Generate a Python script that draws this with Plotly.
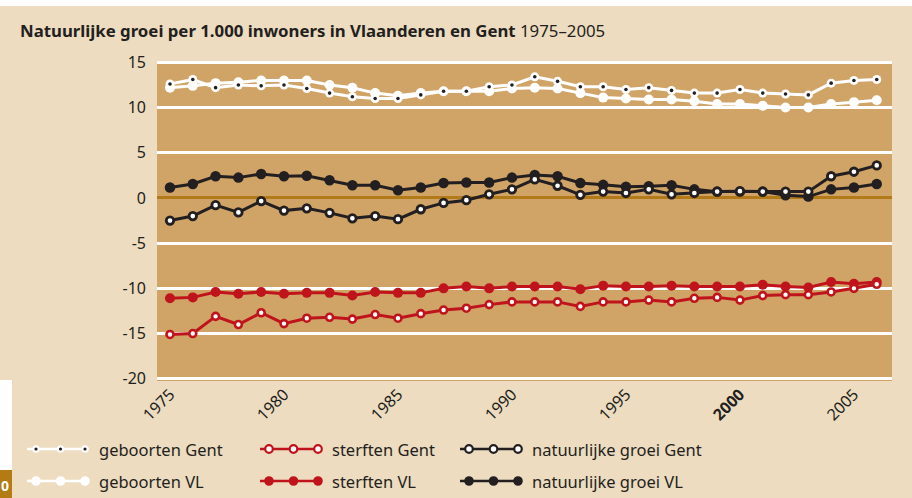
import plotly.graph_objects as go

# ---------------- data ----------------
years = list(range(1975, 2007))

geboorten_gent = [12.6, 13.1, 12.2, 12.5, 12.4, 12.5, 12.1, 11.6, 11.2, 11.0, 11.0, 11.4, 11.8, 11.8, 12.3, 12.5,
                  13.4, 12.9, 12.3, 12.3, 12.0, 12.2, 11.9, 11.6, 11.6, 12.0, 11.6, 11.5, 11.4, 12.7, 13.0, 13.1]
geboorten_vl = [12.2, 12.4, 12.7, 12.8, 13.0, 13.0, 13.0, 12.5, 12.2, 11.6, 11.3, 11.6, 11.8, 11.8, 11.8, 12.1,
                12.2, 12.1, 11.6, 11.1, 11.0, 10.9, 10.9, 10.7, 10.4, 10.4, 10.2, 10.0, 10.0, 10.4, 10.6, 10.8]
sterften_gent = [-15.1, -15.0, -13.1, -14.0, -12.7, -13.9, -13.3, -13.2, -13.4, -12.9, -13.3, -12.8, -12.4, -12.2, -11.8, -11.5,
                 -11.5, -11.5, -12.0, -11.5, -11.5, -11.3, -11.5, -11.1, -11.0, -11.3, -10.8, -10.7, -10.7, -10.4, -10.0, -9.55]
sterften_vl = [-11.1, -11.0, -10.4, -10.6, -10.4, -10.6, -10.5, -10.5, -10.8, -10.4, -10.5, -10.5, -10.0, -9.8, -10.0, -9.8,
               -9.8, -9.8, -10.1, -9.7, -9.8, -9.8, -9.7, -9.8, -9.8, -9.8, -9.6, -9.8, -9.9, -9.3, -9.5, -9.3]
groei_gent = [-2.5, -2.0, -0.8, -1.6, -0.35, -1.4, -1.15, -1.65, -2.25, -2.0, -2.35, -1.25, -0.55, -0.25, 0.4, 0.95,
              2.05, 1.35, 0.35, 0.7, 0.55, 0.95, 0.4, 0.55, 0.7, 0.75, 0.7, 0.7, 0.7, 2.4, 2.9, 3.6]
groei_vl = [1.15, 1.55, 2.4, 2.25, 2.65, 2.4, 2.45, 1.95, 1.4, 1.4, 0.85, 1.15, 1.65, 1.7, 1.7, 2.25,
            2.55, 2.4, 1.65, 1.45, 1.25, 1.3, 1.4, 0.95, 0.7, 0.7, 0.7, 0.3, 0.15, 0.95, 1.15, 1.55]

x_tick_vals = [1975, 1980, 1985, 1990, 1995, 2000, 2005]
x_tick_text = ["1975", "1980", "1985", "1990", "1995", "<b>2000</b>", "2005"]
y_tick_vals = [-20, -15, -10, -5, 0, 5, 10, 15]
y_tick_text = ["-20", "-15", "-10", "-5", "0", "5", "10", "15"]

legend_labels = ["geboorten Gent", "sterften Gent", "natuurlijke groei Gent",
                 "geboorten VL", "sterften VL", "natuurlijke groei VL"]

title_bold = "Natuurlijke groei per 1.000 inwoners in Vlaanderen en Gent"
title_rest = "1975–2005"
page_number = "0"

# ---------------- styling ----------------
W, H = 912, 498
L, R, T, B = 157, 20, 61, 117
PW, PH = W - L - R, H - T - B
FONT = "Noto Sans"
TXT = "#231F20"
BG = "#EDDCBF"
PLOT_BG = "#CFA466"
ZERO = "#B27A18"
RED = "#C0141C"
BLACK = "#231F20"
WHITE = "#FFFFFF"


def px(x):
    return (x - L) / PW


def py(y):
    return (T + PH - y) / PH


fig = go.Figure()

# Vlaanderen first, Gent on top
fig.add_trace(go.Scatter(x=years, y=geboorten_vl, mode="lines+markers",
                         line=dict(color=WHITE, width=3),
                         marker=dict(color=WHITE, size=10, line=dict(width=0))))
fig.add_trace(go.Scatter(x=years, y=geboorten_gent, mode="lines+markers",
                         line=dict(color=WHITE, width=3),
                         marker=dict(color=WHITE, size=9, line=dict(width=0))))
fig.add_trace(go.Scatter(x=years, y=geboorten_gent, mode="markers",
                         marker=dict(color=BLACK, size=3.6, line=dict(width=0))))

fig.add_trace(go.Scatter(x=years, y=sterften_vl, mode="lines+markers",
                         line=dict(color=RED, width=3),
                         marker=dict(color=RED, size=10, line=dict(width=0))))
fig.add_trace(go.Scatter(x=years, y=sterften_gent, mode="lines+markers",
                         line=dict(color=RED, width=3),
                         marker=dict(color=WHITE, size=7, line=dict(color=RED, width=2.6))))

fig.add_trace(go.Scatter(x=years, y=groei_vl, mode="lines+markers",
                         line=dict(color=BLACK, width=3),
                         marker=dict(color=BLACK, size=10.5, line=dict(width=0))))
fig.add_trace(go.Scatter(x=years, y=groei_gent, mode="lines+markers",
                         line=dict(color=BLACK, width=3),
                         marker=dict(color=WHITE, size=7.5, line=dict(color=BLACK, width=2.8))))

shapes = []
annotations = []

# page decorations
shapes.append(dict(type="rect", xref="paper", yref="paper", x0=px(0), x1=px(W), y0=py(0), y1=py(6),
                   fillcolor=WHITE, line=dict(width=0), layer="below"))
shapes.append(dict(type="rect", xref="paper", yref="paper", x0=px(0), x1=px(12), y0=py(380), y1=py(470),
                   fillcolor=WHITE, line=dict(width=0), layer="below"))
shapes.append(dict(type="rect", xref="paper", yref="paper", x0=px(0), x1=px(12), y0=py(470), y1=py(H),
                   fillcolor="#B47A14", line=dict(width=0), layer="below"))
annotations.append(dict(xref="paper", yref="paper", x=px(5), y=py(485), text="<b>" + page_number + "</b>",
                        showarrow=False, xanchor="center", yanchor="middle",
                        font=dict(family=FONT, size=14, color=WHITE)))

# legend (drawn)
legend_styles = [
    dict(line=WHITE, fill=WHITE, stroke=None, r=3.8, dot=True),
    dict(line=RED, fill=WHITE, stroke=RED, r=3.8, dot=False),
    dict(line=BLACK, fill=WHITE, stroke=BLACK, r=3.8, dot=False),
    dict(line=WHITE, fill=WHITE, stroke=None, r=4.8, dot=False),
    dict(line=RED, fill=RED, stroke=None, r=4.8, dot=False),
    dict(line=BLACK, fill=BLACK, stroke=None, r=4.8, dot=False),
]
col_x = [97, 330, 530]
row_y = [449, 481]
for i, (lab, st) in enumerate(zip(legend_labels, legend_styles)):
    tx = col_x[i % 3]
    ty = row_y[i // 3]
    shapes.append(dict(type="line", xref="paper", yref="paper", x0=px(tx - 70), x1=px(tx - 10),
                       y0=py(ty), y1=py(ty), line=dict(color=st["line"], width=2.5)))
    for off in (61, 36.5, 12):
        cx = tx - off
        r = st["r"]
        shapes.append(dict(type="circle", xref="paper", yref="paper",
                           x0=px(cx - r), x1=px(cx + r), y0=py(ty + r), y1=py(ty - r),
                           fillcolor=st["fill"],
                           line=dict(color=st["stroke"] or st["fill"], width=2.2 if st["stroke"] else 0)))
        if st["dot"]:
            rd = 1.6
            shapes.append(dict(type="circle", xref="paper", yref="paper",
                               x0=px(cx - rd), x1=px(cx + rd), y0=py(ty + rd), y1=py(ty - rd),
                               fillcolor=BLACK, line=dict(width=0)))
    annotations.append(dict(xref="paper", yref="paper", x=px(tx), y=py(ty), text=lab, showarrow=False,
                            xanchor="left", yanchor="middle", font=dict(family=FONT, size=16.5, color=TXT)))

fig.update_layout(
    width=W, height=H,
    margin=dict(l=L, r=R, t=T, b=B, pad=0),
    paper_bgcolor=BG, plot_bgcolor=PLOT_BG,
    showlegend=False,
    hovermode=False,
    font=dict(family=FONT, size=16, color=TXT),
    title=dict(text="<b>" + title_bold + "</b> " + title_rest,
               xref="container", yref="container", x=20 / W, y=1 - 31 / H,
               xanchor="left", yanchor="middle",
               font=dict(family=FONT, size=16.8, color=TXT)),
    shapes=shapes,
    annotations=annotations,
)
fig.update_xaxes(range=[1974.43, 2006.67], tickvals=x_tick_vals, ticktext=x_tick_text,
                 tickangle=-45, showgrid=False, zeroline=False, showline=False,
                 tickfont=dict(family=FONT, size=16, color=TXT), ticks="", fixedrange=True)
fig.update_yaxes(range=[-20.25, 15.15], tickvals=y_tick_vals, ticktext=y_tick_text,
                 showgrid=True, gridcolor=WHITE, gridwidth=2.5,
                 zeroline=True, zerolinecolor=ZERO, zerolinewidth=2.5,
                 tickfont=dict(family=FONT, size=16, color=TXT), ticks="", ticklabelstandoff=10,
                 showline=False, fixedrange=True)

fig.write_html("out.html",
               config={"displayModeBar": False},
               post_script="document.body.style.margin='0px';document.body.style.overflow='hidden';")
